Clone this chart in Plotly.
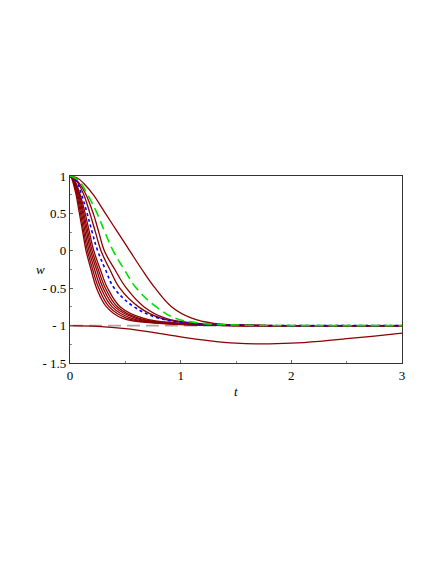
import plotly.graph_objects as go

# w levels each solution curve passes through, and the time t at which each curve reaches them
w_levels = [1.0, 0.97, 0.9, 0.75, 0.5, 0.25, 0.0, -0.25, -0.5, -0.75, -0.9, -0.97, -0.995, -1.0, -1.0]

t_c1 = [0, 0.015, 0.03, 0.055, 0.085, 0.115, 0.145, 0.19, 0.24, 0.33, 0.47, 0.8, 1.3, 2, 3]
t_c2 = [0, 0.018, 0.035, 0.062, 0.095, 0.125, 0.158, 0.205, 0.26, 0.355, 0.51, 0.84, 1.35, 2, 3]
t_c3 = [0, 0.02, 0.04, 0.07, 0.105, 0.137, 0.172, 0.222, 0.28, 0.38, 0.55, 0.88, 1.4, 2, 3]
t_c4 = [0, 0.022, 0.045, 0.078, 0.115, 0.15, 0.186, 0.24, 0.30, 0.405, 0.59, 0.92, 1.4, 2, 3]
t_c5 = [0, 0.025, 0.05, 0.085, 0.125, 0.162, 0.2, 0.256, 0.32, 0.43, 0.62, 0.96, 1.45, 2, 3]
t_c6 = [0, 0.027, 0.055, 0.092, 0.137, 0.175, 0.215, 0.274, 0.34, 0.455, 0.66, 1.0, 1.45, 2, 3]
t_blue = [0, 0.035, 0.07, 0.105, 0.155, 0.2, 0.25, 0.32, 0.40, 0.58, 0.8, 1.1, 1.55, 2, 3]
t_r1 = [0, 0.038, 0.075, 0.125, 0.18, 0.23, 0.28, 0.36, 0.45, 0.62, 0.82, 1.12, 1.55, 2, 3]
t_r2 = [0, 0.043, 0.085, 0.145, 0.21, 0.26, 0.31, 0.405, 0.51, 0.67, 0.86, 1.15, 1.6, 2, 3]
t_green = [0, 0.05, 0.1, 0.16, 0.245, 0.315, 0.39, 0.49, 0.6, 0.78, 0.95, 1.2, 1.6, 2, 3]
t_outer = [0, 0.07, 0.125, 0.21, 0.32, 0.43, 0.54, 0.65, 0.77, 0.92, 1.1, 1.3, 1.6, 2, 3]

# lower solution that starts at -1 and dips
t_low = [0, 0.25, 0.5, 0.75, 1, 1.25, 1.5, 1.75, 2, 2.25, 2.5, 2.75, 3]
w_low = [-1, -1.01, -1.04, -1.09, -1.15, -1.2, -1.235, -1.245, -1.235, -1.21, -1.175, -1.14, -1.1]

t_ref = [0, 3]
w_ref = [-1, -1]

red = "#8B0000"
fig = go.Figure()

fig.add_trace(go.Scatter(x=t_ref, y=w_ref, mode="lines",
                         line=dict(color="#A8A8A8", width=1.6, dash="13px,6px")))

for tc in [t_c1, t_c2, t_c3, t_c4, t_c5, t_c6, t_r1, t_r2, t_outer]:
    fig.add_trace(go.Scatter(x=tc, y=w_levels, mode="lines",
                             line=dict(color=red, width=1.3, shape="spline", smoothing=1.1)))

fig.add_trace(go.Scatter(x=t_blue, y=w_levels, mode="lines",
                         line=dict(color="#0000FF", width=1.6, dash="dot", shape="spline", smoothing=1.1)))
fig.add_trace(go.Scatter(x=t_green, y=w_levels, mode="lines",
                         line=dict(color="#00E000", width=1.6, dash="9px,5px", shape="spline", smoothing=1.1)))
fig.add_trace(go.Scatter(x=t_low, y=w_low, mode="lines",
                         line=dict(color=red, width=1.3, shape="spline")))

axis_font = dict(family="Liberation Serif, Times New Roman, serif", size=13, color="black")

fig.update_layout(
    width=437, height=565,
    margin=dict(l=62, r=43, t=168, b=210),
    paper_bgcolor="white", plot_bgcolor="white",
    showlegend=False,
    xaxis=dict(range=[0, 3], tickvals=[0, 1, 2, 3], ticktext=["0", "1", "2", "3"],
               showgrid=False, zeroline=False, showline=True, mirror=True,
               linecolor="#333333", linewidth=1.2, ticks="inside", ticklen=3,
               tickcolor="#666666", tickfont=axis_font,
               minor=dict(ticks="inside", ticklen=2, dtick=0.5, tickcolor="#888888")),
    yaxis=dict(range=[-1.5, 1], tickvals=[1, 0.5, 0, -0.5, -1, -1.5],
               ticktext=["1", "0.5", "0", "- 0.5", "- 1", "- 1.5"],
               showgrid=False, zeroline=False, showline=True, mirror=True,
               linecolor="#333333", linewidth=1.2, ticks="inside", ticklen=3,
               tickcolor="#666666", tickfont=axis_font,
               minor=dict(ticks="inside", ticklen=2, dtick=0.25, tickcolor="#888888")),
    annotations=[
        dict(text="<i>w</i>", xref="paper", yref="paper", x=-0.09, y=0.5,
             showarrow=False, font=axis_font, xanchor="center", yanchor="middle"),
        dict(text="<i>t</i>", xref="paper", yref="paper", x=0.5, y=-0.1,
             showarrow=False, font=axis_font, xanchor="center", yanchor="top"),
    ],
)

fig.write_html("out.html")
